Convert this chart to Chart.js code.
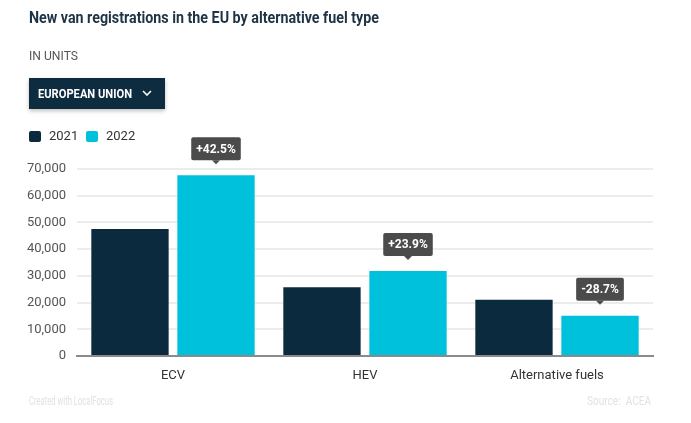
<!DOCTYPE html>
<html>
<head>
<meta charset="utf-8">
<script src="https://cdn.jsdelivr.net/npm/chart.js@4.4.0/dist/chart.umd.min.js"></script>
<style>
  html, body { margin: 0; padding: 0; background: #fff; }
  #wrap { position: relative; width: 691px; height: 423px; overflow: hidden; font-family: Roboto, sans-serif; }
  #wrap canvas { position: absolute; left: 0; top: 0; }
  .fit { position: absolute; white-space: nowrap; transform-origin: 0 50%; display: inline-block; }
  #titulo { left: 29px; top: 8px; font-size: 16px; font-weight: 700; color: #1e3345; }
  #unidades { left: 29px; top: 48px; font-size: 13px; color: #555; }
  #boton { position: absolute; left: 29px; top: 78px; width: 136px; height: 31px; background: #0d2c40; box-shadow: 0 2px 4px rgba(0,0,0,0.25); }
  #boton-txt { left: 9px; top: 8px; font-size: 13px; font-weight: 700; color: #fff; }
  #boton svg { position: absolute; left: 113px; top: 12px; }
  #leyenda { position: absolute; left: 29px; top: 128px; font-size: 13px; color: #333; }
  .item { position: absolute; top: 0; height: 16px; line-height: 16px; white-space: nowrap; }
  .item span.caja { position: absolute; left: 0; top: 3px; width: 12px; height: 11px; border-radius: 2px; }
  .item span.txt { position: absolute; left: 20px; top: 0; }
  #creado { left: 29px; top: 393px; font-size: 13px; color: #e2e2e2; }
  #fuente { left: 587px; top: 393px; font-size: 13px; color: #e2e2e2; }
</style>
</head>
<body>
<div id="wrap">
  <canvas id="grafico" width="691" height="423"></canvas>
  <div id="titulo" class="fit" data-w="350">New van registrations in the EU by alternative fuel type</div>
  <div id="unidades" class="fit" data-w="49">IN UNITS</div>
  <div id="boton">
    <div id="boton-txt" class="fit" data-w="94">EUROPEAN UNION</div>
    <svg width="10" height="6" viewBox="0 0 10 6"><polyline points="1,1 5,5 9,1" fill="none" stroke="#fff" stroke-width="1.6"/></svg>
  </div>
  <div id="leyenda"></div>
  <div id="creado" class="fit" data-w="84">Created with LocalFocus</div>
  <div id="fuente" class="fit" data-w="64">Source:&nbsp; ACEA</div>
</div>
<script>
// --- datos ---
const categorias = ['ECV', 'HEV', 'Alternative fuels'];
const anios = ['2021', '2022'];
const valores2021 = [47500, 25700, 21100];
const valores2022 = [67700, 31850, 15050];
const variaciones = ['+42.5%', '+23.9%', '-28.7%'];
const ticksY = [0, 10000, 20000, 30000, 40000, 50000, 60000, 70000];
const colores = ['#0b2a3e', '#00c1dc'];

// ajustar textos "condensados" al ancho del original
document.querySelectorAll('.fit').forEach(el => {
    const objetivo = parseFloat(el.dataset.w);
    const ancho = el.getBoundingClientRect().width;
    if (ancho > 0) el.style.transform = `scaleX(${objetivo / ancho})`;
});

// leyenda en HTML
const leyenda = document.getElementById('leyenda');
const posLeyenda = [0, 57];
anios.forEach((a, i) => {
    leyenda.insertAdjacentHTML('beforeend',
        `<div class="item" style="left:${posLeyenda[i]}px"><span class="caja" style="background:${colores[i]}"></span><span class="txt">${a}</span></div>`);
});

// etiquetas de variación sobre las barras de 2022
const pluginVariacion = {
    id: 'variacion',
    afterDatasetsDraw(chart) {
        const ctx = chart.ctx;
        const meta = chart.getDatasetMeta(1);
        ctx.save();
        ctx.font = 'bold 12px Roboto';
        meta.data.forEach((barra, i) => {
            const texto = variaciones[i];
            const w = ctx.measureText(texto).width + 10;
            const h = 23;
            const x = barra.x;
            const abajo = barra.y - 15;
            ctx.fillStyle = '#4b4b4b';
            ctx.beginPath();
            ctx.roundRect(x - w / 2, abajo - h, w, h, 2);
            ctx.fill();
            ctx.beginPath();
            ctx.moveTo(x - 4, abajo);
            ctx.lineTo(x + 4, abajo);
            ctx.lineTo(x, abajo + 4);
            ctx.closePath();
            ctx.fill();
            ctx.fillStyle = '#fff';
            ctx.textAlign = 'center';
            ctx.textBaseline = 'middle';
            ctx.fillText(texto, x, abajo - h / 2 + 1);
        });
        ctx.restore();
    }
};

new Chart(document.getElementById('grafico').getContext('2d'), {
    type: 'bar',
    data: {
        labels: categorias,
        datasets: [
            { label: anios[0], data: valores2021, backgroundColor: colores[0] },
            { label: anios[1], data: valores2022, backgroundColor: colores[1] }
        ]
    },
    options: {
        responsive: false,
        animation: false,
        devicePixelRatio: 1,
        categoryPercentage: 0.896,
        barPercentage: 0.899,
        layout: { padding: { top: 169, left: 0, right: 38, bottom: 36 } },
        plugins: { legend: { display: false }, tooltip: { enabled: false } },
        scales: {
            x: {
                afterFit: s => { s.height = 31; },
                grid: { display: false },
                border: { color: '#8a8a8a', width: 2 },
                ticks: { color: '#333', font: { family: 'Roboto', size: 13 }, padding: 4 }
            },
            y: {
                min: 0,
                max: 70000,
                afterFit: s => { s.width = 77; },
                afterBuildTicks: s => { s.ticks = ticksY.map(v => ({ value: v })); },
                border: { display: false },
                grid: { color: '#ececec', lineWidth: 2, drawTicks: false },
                ticks: {
                    color: '#555',
                    padding: 11,
                    font: { family: 'Roboto', size: 13 },
                    callback: v => v.toLocaleString('en-US')
                }
            }
        }
    },
    plugins: [pluginVariacion]
});
</script>
</body>
</html>
